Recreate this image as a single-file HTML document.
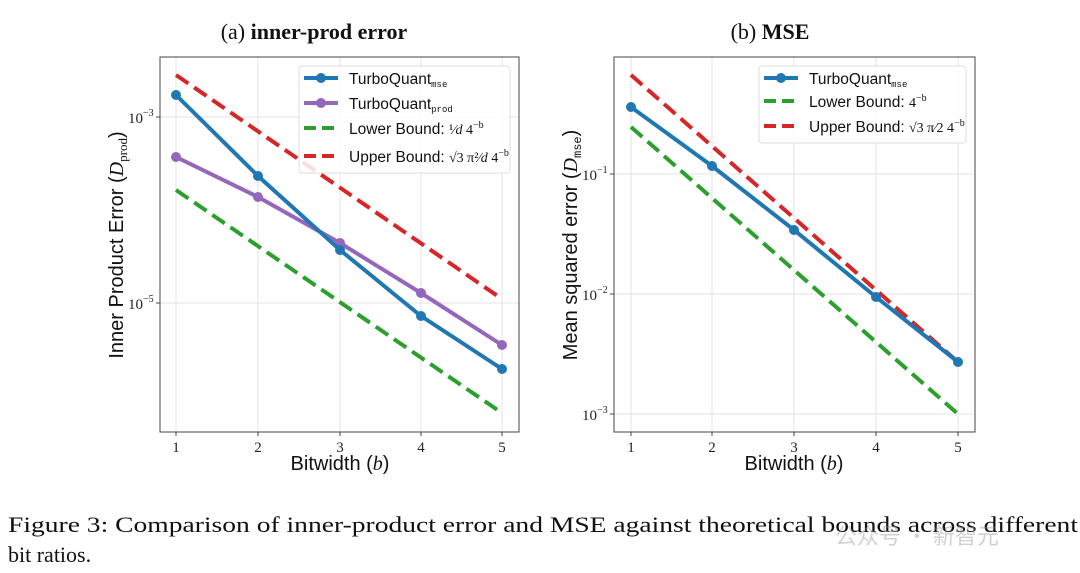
<!DOCTYPE html>
<html><head><meta charset="utf-8"><style>
html,body{margin:0;padding:0;background:#fff;}
svg{display:block;}
.tk{font-family:"Liberation Serif",serif;font-size:15px;fill:#222;}
.lab{font-family:"Liberation Sans",sans-serif;font-size:20px;fill:#111;}
.lg{font-family:"Liberation Sans",sans-serif;font-size:15.5px;fill:#111;}
.ttl{font-family:"Liberation Serif",serif;font-size:22px;fill:#111;}
.cap{font-family:"Liberation Serif",serif;font-size:22px;fill:#111;}
</style></head><body>
<svg width="1080" height="573" viewBox="0 0 1080 573" xmlns="http://www.w3.org/2000/svg">
<rect width="1080" height="573" fill="#fff"/>
<!-- LEFT -->
<text class="ttl" x="314" y="39" text-anchor="middle">(a) <tspan font-weight="bold">inner-prod error</tspan></text>
<g stroke="#e3e3e3" stroke-width="1">
<line x1="176" y1="57" x2="176" y2="432"/><line x1="258" y1="57" x2="258" y2="432"/><line x1="340" y1="57" x2="340" y2="432"/><line x1="421" y1="57" x2="421" y2="432"/><line x1="502" y1="57" x2="502" y2="432"/>
<line x1="160" y1="117" x2="519" y2="117"/><line x1="160" y1="303" x2="519" y2="303"/>
</g>
<rect x="160" y="57" width="359" height="375" fill="none" stroke="#444" stroke-width="1"/>
<g stroke="#444"><line x1="176" y1="432" x2="176" y2="436"/><line x1="258" y1="432" x2="258" y2="436"/><line x1="340" y1="432" x2="340" y2="436"/><line x1="421" y1="432" x2="421" y2="436"/><line x1="502" y1="432" x2="502" y2="436"/>
<line x1="156" y1="117" x2="160" y2="117"/><line x1="156" y1="303" x2="160" y2="303"/></g>
<g class="tk" text-anchor="middle"><text x="176" y="452">1</text><text x="258" y="452">2</text><text x="340" y="452">3</text><text x="421" y="452">4</text><text x="502" y="452">5</text></g>
<text class="tk" x="128" y="123">10<tspan font-size="10" dy="-7">−3</tspan></text>
<text class="tk" x="128" y="309">10<tspan font-size="10" dy="-7">−5</tspan></text>
<text class="lab" x="340" y="470" text-anchor="middle">Bitwidth (<tspan font-family="Liberation Serif" font-style="italic">b</tspan>)</text>
<text class="lab" transform="translate(123,245) rotate(-90)" text-anchor="middle">Inner Product Error (<tspan font-family="Liberation Serif" font-style="italic">D</tspan><tspan font-family="Liberation Serif" font-size="13" dy="4">prod</tspan><tspan dy="-4">)</tspan></text>
<line x1="176" y1="75" x2="502" y2="299" stroke="#d62728" stroke-width="4" stroke-dasharray="15,7"/>
<line x1="176" y1="190" x2="502" y2="413" stroke="#2ca02c" stroke-width="4" stroke-dasharray="15,7"/>
<polyline points="176,157 258,197 340,243 421,293 502,345" fill="none" stroke="#9467bd" stroke-width="4"/>
<g fill="#9467bd"><circle cx="176" cy="157" r="5"/><circle cx="258" cy="197" r="5"/><circle cx="340" cy="243" r="5"/><circle cx="421" cy="293" r="5"/><circle cx="502" cy="345" r="5"/></g>
<polyline points="176,95 258,176 340,250 421,316 502,369" fill="none" stroke="#1f77b4" stroke-width="4"/>
<g fill="#1f77b4"><circle cx="176" cy="95" r="5"/><circle cx="258" cy="176" r="5"/><circle cx="340" cy="250" r="5"/><circle cx="421" cy="316" r="5"/><circle cx="502" cy="369" r="5"/></g>
<rect x="299" y="66" width="211" height="107" rx="3" fill="#fff" fill-opacity="0.85" stroke="#ddd"/>
<line x1="304" y1="78" x2="338" y2="78" stroke="#1f77b4" stroke-width="4"/><circle cx="321" cy="78" r="5" fill="#1f77b4"/>
<text class="lg" x="349" y="84">TurboQuant<tspan font-family="Liberation Mono" font-size="9" dy="3">mse</tspan></text>
<line x1="304" y1="103" x2="338" y2="103" stroke="#9467bd" stroke-width="4"/><circle cx="321" cy="103" r="5" fill="#9467bd"/>
<text class="lg" x="349" y="109">TurboQuant<tspan font-family="Liberation Mono" font-size="9" dy="3">prod</tspan></text>
<line x1="304" y1="128" x2="338" y2="128" stroke="#2ca02c" stroke-width="4" stroke-dasharray="12,6"/>
<text class="lg" x="349" y="134">Lower Bound: <tspan font-family="Liberation Serif" font-size="14">¹⁄<tspan font-style="italic">d</tspan> 4<tspan font-size="10" dy="-6">−b</tspan></tspan></text>
<line x1="304" y1="156" x2="338" y2="156" stroke="#d62728" stroke-width="4" stroke-dasharray="12,6"/>
<text class="lg" x="349" y="162">Upper Bound: <tspan font-family="Liberation Serif" font-size="14">√3 π²⁄<tspan font-style="italic">d</tspan> 4<tspan font-size="10" dy="-6">−b</tspan></tspan></text>

<!-- RIGHT -->
<text class="ttl" x="770" y="39" text-anchor="middle">(b) <tspan font-weight="bold">MSE</tspan></text>
<g stroke="#e3e3e3" stroke-width="1">
<line x1="631" y1="57" x2="631" y2="432"/><line x1="712" y1="57" x2="712" y2="432"/><line x1="794" y1="57" x2="794" y2="432"/><line x1="876" y1="57" x2="876" y2="432"/><line x1="958" y1="57" x2="958" y2="432"/>
<line x1="614" y1="174" x2="975" y2="174"/><line x1="614" y1="294" x2="975" y2="294"/><line x1="614" y1="414" x2="975" y2="414"/>
</g>
<rect x="614" y="57" width="361" height="375" fill="none" stroke="#444" stroke-width="1"/>
<g stroke="#444"><line x1="631" y1="432" x2="631" y2="436"/><line x1="712" y1="432" x2="712" y2="436"/><line x1="794" y1="432" x2="794" y2="436"/><line x1="876" y1="432" x2="876" y2="436"/><line x1="958" y1="432" x2="958" y2="436"/>
<line x1="610" y1="174" x2="614" y2="174"/><line x1="610" y1="294" x2="614" y2="294"/><line x1="610" y1="414" x2="614" y2="414"/></g>
<g class="tk" text-anchor="middle"><text x="631" y="452">1</text><text x="712" y="452">2</text><text x="794" y="452">3</text><text x="876" y="452">4</text><text x="958" y="452">5</text></g>
<text class="tk" x="582" y="180">10<tspan font-size="10" dy="-7">−1</tspan></text>
<text class="tk" x="582" y="300">10<tspan font-size="10" dy="-7">−2</tspan></text>
<text class="tk" x="582" y="420">10<tspan font-size="10" dy="-7">−3</tspan></text>
<text class="lab" x="794" y="470" text-anchor="middle">Bitwidth (<tspan font-family="Liberation Serif" font-style="italic">b</tspan>)</text>
<text class="lab" transform="translate(577,245) rotate(-90)" text-anchor="middle">Mean squared error (<tspan font-family="Liberation Serif" font-style="italic">D</tspan><tspan font-family="Liberation Mono" font-size="12" dy="4">mse</tspan><tspan dy="-4">)</tspan></text>
<line x1="631" y1="127" x2="958" y2="414" stroke="#2ca02c" stroke-width="4" stroke-dasharray="15,7"/>
<line x1="631" y1="75" x2="958" y2="362" stroke="#d62728" stroke-width="4" stroke-dasharray="15,7"/>
<polyline points="631,107 712,166 794,230 876,297 958,362" fill="none" stroke="#1f77b4" stroke-width="4"/>
<g fill="#1f77b4"><circle cx="631" cy="107" r="5"/><circle cx="712" cy="166" r="5"/><circle cx="794" cy="230" r="5"/><circle cx="876" cy="297" r="5"/><circle cx="958" cy="362" r="5"/></g>
<rect x="759" y="66" width="207" height="77" rx="3" fill="#fff" fill-opacity="0.85" stroke="#ddd"/>
<line x1="764" y1="78" x2="798" y2="78" stroke="#1f77b4" stroke-width="4"/><circle cx="781" cy="78" r="5" fill="#1f77b4"/>
<text class="lg" x="809" y="84">TurboQuant<tspan font-family="Liberation Mono" font-size="9" dy="3">mse</tspan></text>
<line x1="764" y1="101" x2="798" y2="101" stroke="#2ca02c" stroke-width="4" stroke-dasharray="12,6"/>
<text class="lg" x="809" y="107">Lower Bound: <tspan font-family="Liberation Serif" font-size="14">4<tspan font-size="10" dy="-6">−b</tspan></tspan></text>
<line x1="764" y1="126" x2="798" y2="126" stroke="#d62728" stroke-width="4" stroke-dasharray="12,6"/>
<text class="lg" x="809" y="132">Upper Bound: <tspan font-family="Liberation Serif" font-size="14">√3 π⁄2 4<tspan font-size="10" dy="-6">−b</tspan></tspan></text>

<!-- caption -->
<text class="cap" x="8" y="532" textLength="1070" lengthAdjust="spacingAndGlyphs">Figure 3: Comparison of inner-product error and MSE against theoretical bounds across different</text>
<text class="cap" x="8" y="562">bit ratios.</text>
<text x="835" y="544" font-family="'Noto Sans CJK SC',sans-serif" font-size="22" fill="#999" fill-opacity="0.45">公众号 · 新智元</text>
</svg>
</body></html>
